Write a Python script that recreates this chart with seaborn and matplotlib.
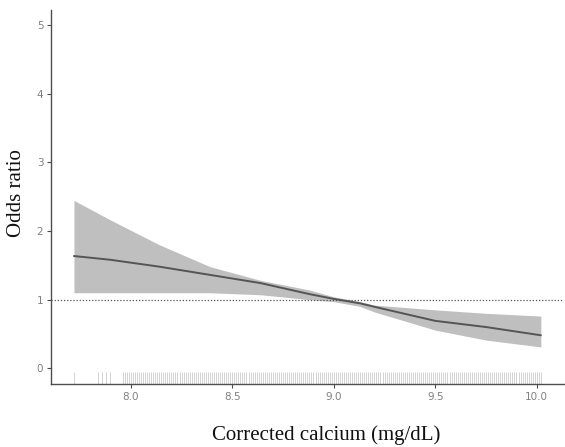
import numpy as np
import pandas as pd
import matplotlib
matplotlib.use("Agg")
import matplotlib.pyplot as plt
import seaborn as sns

# spline estimate (odds ratio vs corrected calcium)
calcium = [7.72, 7.90, 8.14, 8.39, 8.64, 8.88, 9.00, 9.13, 9.20, 9.50, 9.75, 10.02]
odds = [1.635, 1.58, 1.48, 1.36, 1.24, 1.08, 1.01, 0.945, 0.895, 0.69, 0.60, 0.48]
upper = [2.445, 2.16, 1.80, 1.48, 1.28, 1.14, 1.04, 0.97, 0.92, 0.85, 0.80, 0.76]
lower = [1.10, 1.10, 1.10, 1.10, 1.07, 1.00, 0.97, 0.90, 0.82, 0.555, 0.41, 0.31]

# observed values shown as the rug along the x axis
rug_values = [
    7.72, 7.84, 7.86, 7.88, 7.90,
    7.96, 7.97, 7.98, 7.99, 8.00, 8.01, 8.02, 8.03, 8.04, 8.05,
    8.06, 8.07, 8.08, 8.09, 8.10, 8.11, 8.12, 8.13, 8.14, 8.15,
    8.16, 8.17, 8.18, 8.19, 8.20, 8.21, 8.22, 8.23, 8.24, 8.25,
    8.26, 8.27, 8.28, 8.29, 8.30, 8.31, 8.32, 8.33, 8.34, 8.35,
    8.36, 8.37, 8.38, 8.39, 8.40, 8.41, 8.42, 8.43, 8.44, 8.45,
    8.46, 8.47, 8.48, 8.49, 8.50, 8.51, 8.52, 8.53, 8.54, 8.55,
    8.56, 8.57, 8.58, 8.59, 8.60, 8.61, 8.62, 8.63, 8.64, 8.65,
    8.66, 8.67, 8.68, 8.69, 8.70, 8.71, 8.72, 8.73, 8.74, 8.75,
    8.76, 8.77, 8.78, 8.79, 8.80, 8.81, 8.82, 8.83, 8.84, 8.85,
    8.86, 8.87, 8.88, 8.89, 8.90, 8.91, 8.92, 8.93, 8.94, 8.95,
    8.96, 8.97, 8.98, 8.99, 9.00, 9.01, 9.02, 9.03, 9.04, 9.05,
    9.06, 9.07, 9.08, 9.09, 9.10, 9.11, 9.12, 9.13, 9.14, 9.15,
    9.16, 9.17, 9.18, 9.19, 9.20, 9.21, 9.22, 9.23, 9.24, 9.25,
    9.26, 9.27, 9.28, 9.29, 9.30, 9.31, 9.32, 9.33, 9.34, 9.35,
    9.36, 9.37, 9.38, 9.39, 9.40, 9.41, 9.42, 9.43, 9.44, 9.45,
    9.46, 9.47, 9.48, 9.49, 9.50, 9.51, 9.52, 9.53, 9.54, 9.55,
    9.56, 9.57, 9.58, 9.59, 9.60, 9.61, 9.62, 9.63, 9.64, 9.65,
    9.66, 9.67, 9.68, 9.69, 9.70, 9.71, 9.72, 9.73, 9.74, 9.75,
    9.76, 9.77, 9.78, 9.79, 9.80, 9.81, 9.82, 9.83, 9.84, 9.85,
    9.86, 9.87, 9.88, 9.89, 9.90, 9.91, 9.92, 9.93, 9.94, 9.95,
    9.96, 9.97, 9.98, 9.99, 10.00, 10.01, 10.02,
]

x_ticks = [8.0, 8.5, 9.0, 9.5, 10.0]
y_ticks = [0, 1, 2, 3, 4, 5]

df = pd.DataFrame({'calcium': calcium, 'odds': odds, 'upper': upper, 'lower': lower})

sns.set_style('white')

fig = plt.figure(figsize=(5.65, 4.47), dpi=100)
ax = fig.add_axes([51 / 565, 1 - 384 / 447, 513 / 565, 374 / 447])

ax.fill_between(df['calcium'], df['lower'], df['upper'], color='#bfbfbf', linewidth=0)
sns.lineplot(data=df, x='calcium', y='odds', ax=ax, color='#555555', linewidth=1.4)
ax.axhline(1, color='#555555', linestyle=(0, (1, 1.5)), linewidth=0.9)
sns.rugplot(x=rug_values, ax=ax, height=0.032, color='#d2d2d2', linewidth=0.7)

ax.set_xlim(7.607, 10.134)
ax.set_ylim(-0.23, 5.22)
ax.set_xticks(x_ticks)
ax.set_xticklabels([f'{v:.1f}' for v in x_ticks])
ax.set_yticks(y_ticks)

for side in ['top', 'right']:
    ax.spines[side].set_visible(False)
for side in ['left', 'bottom']:
    ax.spines[side].set_color('#4d4d4d')
    ax.spines[side].set_linewidth(1.0)

ax.tick_params(axis='both', which='major', direction='out', length=3, width=0.8,
               color='#4d4d4d', labelcolor='#808080', labelsize=7.5, pad=2.5,
               bottom=True, left=True)

ax.set_xlabel('Corrected calcium (mg/dL)', family='Liberation Serif', fontsize=15, color='#111111')
ax.set_ylabel('Odds ratio', family='Liberation Serif', fontsize=15, color='#111111')
ax.xaxis.set_label_coords(275 / 513, -51 / 374)
ax.xaxis.label.set_va('center')
ax.yaxis.set_label_coords(-34 / 513, (384 - 193) / 374)
ax.yaxis.label.set_va('center')

plt.savefig('out.png', dpi=100)
